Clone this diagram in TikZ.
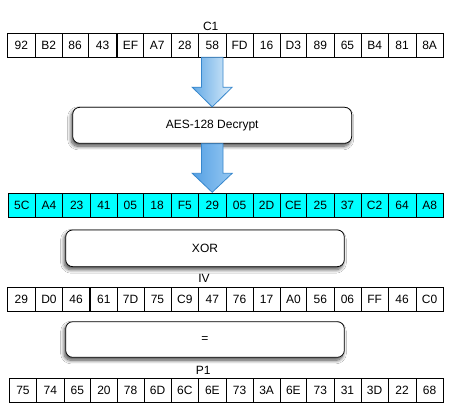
\documentclass[tikz,border=0pt]{standalone}
\usepackage{fontspec}
\setmainfont{Liberation Sans}
\usetikzlibrary{shadows.blur,calc}
\definecolor{cyanfill}{RGB}{0,255,255}
\definecolor{arrAL}{RGB}{100,170,230}
\definecolor{arrAR}{RGB}{218,236,250}
\definecolor{arrBL}{RGB}{85,160,228}
\definecolor{arrBR}{RGB}{150,200,242}
\definecolor{arrline}{RGB}{55,135,205}
\begin{document}
\begin{tikzpicture}[x=1pt,y=-1pt,
  cell/.style={draw=black, line width=0.8pt, inner sep=0pt, outer sep=0pt,
    font=\fontsize{12}{14}\selectfont, minimum height=24pt},
  lbl/.style={inner sep=0pt, font=\fontsize{12}{14}\selectfont},
  procbox/.style={draw=black, line width=0.8pt, fill=white, rounded corners=7pt,
    inner sep=0pt, font=\fontsize{12}{14}\selectfont,
    blur shadow={shadow xshift=-1.5pt, shadow yshift=-3pt, shadow blur radius=3.5pt,
      shadow opacity=70, shadow blur steps=10}},
  blockarrowA/.style={draw=arrline, line width=0.8pt, left color=arrAL, right color=arrAR},
  blockarrowB/.style={draw=arrline, line width=0.8pt, left color=arrBL, right color=arrBR}]
\useasboundingbox (0,0) rectangle (456,413);
\fill[white] (0,0) rectangle (456,413);

% C1 row
\node[lbl] (c1lbl) at (210.7,26.7) {C1};
\foreach \a/\b/\t [count=\i] in {7.3/35.3/92, 35.3/62/B2, 62/88.3/86, 88.3/116.8/43,
  117.6/143.3/EF, 143.3/171/A7, 171/198.7/28, 198.7/226/58, 226/253.3/FD, 253.3/280/16,
  280/306.7/D3, 306.7/334/89, 334/361/65, 361/388.3/B4, 388.3/416/81, 416/443.3/8A}
  \node[cell, minimum width={(\b-\a)*1pt}] (c1-\i) at ({(\a+\b)/2},45.3) {\t};

% AES box
\node[procbox, minimum width=279pt, minimum height=36pt] (aes) at (212.2,125.3) {AES-128 Decrypt};

% cyan row
\foreach \a/\b/\t [count=\i] in {8.3/35.3/5C, 35.3/62.7/A4, 62.7/90.7/23, 90.7/117.3/41,
  117.3/143.3/05, 143.3/171/18, 171/198.7/F5, 198.7/226/29, 226/253.3/05, 253.3/280/2D,
  280/306.7/CE, 306.7/334/25, 334/361/37, 361/388.3/C2, 388.3/416/64, 416/443.3/A8}
  \node[cell, fill=cyanfill, minimum width={(\b-\a)*1pt}] (cy-\i) at ({(\a+\b)/2},205.3) {\t};

% arrows
\draw[blockarrowA] let \p1=(aes.north), \p2=(c1-8.south) in
  (\x1-10.8pt,\y2) -- (\x1-10.8pt,\y1+19.7pt) -- (\x1-20pt,\y1+19.7pt) -- (\x1,\y1)
  -- (\x1+20pt,\y1+19.7pt) -- (\x1+10.8pt,\y1+19.7pt) -- (\x1+10.8pt,\y2) -- cycle;
\draw[blockarrowB] let \p1=(aes.south), \p2=(cy-8.north) in
  (\x1-10.8pt,\y1) -- (\x1-10.8pt,\y2+20pt) -- (\x1-20pt,\y2+20pt) -- (\x1,\y2+1pt)
  -- (\x1+20pt,\y2+20pt) -- (\x1+10.8pt,\y2+20pt) -- (\x1+10.8pt,\y1) -- cycle;

% XOR box
\node[procbox, minimum width=278.6pt, minimum height=36.7pt] (xor) at (205,248.3) {XOR};

% IV row
\node[lbl] (ivlbl) at (204,278.7) {IV};
\foreach \a/\b/\t [count=\i] in {7.3/35.3/29, 35.3/62.7/D0, 62.7/89.6/46, 90.4/117.3/61,
  117.3/144/7D, 144/171/75, 171/198.7/C9, 198.7/226/47, 226/253.3/76, 253.3/280/17,
  280/306.7/A0, 306.7/334/56, 334/361/06, 361/388.3/FF, 388.3/416/46, 416/443.3/C0}
  \node[cell, minimum width={(\b-\a)*1pt}] (iv-\i) at ({(\a+\b)/2},299) {\t};

% = box
\node[procbox, minimum width=278.6pt, minimum height=35.6pt] (eq) at (205,339.5) {=};

% P1 row
\node[lbl] (p1lbl) at (203.3,370) {P1};
\foreach \a/\b/\t [count=\i] in {9.3/36.7/75, 36.7/64/74, 64/90.7/65, 90.7/117.3/20,
  117.3/144/78, 144/171/6D, 171/198.7/6C, 198.7/226/6E, 226/253.3/73, 253.3/280/3A,
  280/306.7/6E, 306.7/334/73, 334/361/31, 361/388.3/3D, 388.3/416/22, 416/443.3/68}
  \node[cell, minimum width={(\b-\a)*1pt}] (p1-\i) at ({(\a+\b)/2},390.3) {\t};
\end{tikzpicture}
\end{document}
